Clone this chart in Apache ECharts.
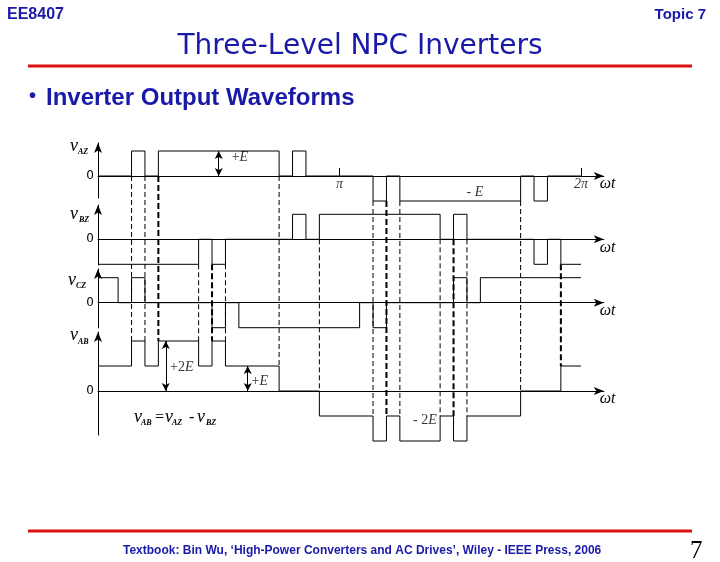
<!DOCTYPE html>
<html>
<head>
<meta charset="utf-8">
<script src="https://cdn.jsdelivr.net/npm/echarts@6/dist/echarts.min.js"></script>
<style>
html, body { margin: 0; padding: 0; background: #fff; }
#main { width: 720px; height: 562px; }
</style>
</head>
<body>
<div id="main"></div>
<script>
// switching angles (deg) and level (in E) that holds from that angle on
var vAZAngles = [0, 25, 35, 45, 135, 145, 155, 205, 215, 225, 315, 325, 335, 360];
var vAZLevels = [0, 1, 0, 1, 0, 1, 0, -1, 0, -1, 0, -1, 0, 0];
var vBZAngles = [0, 75, 85, 95, 145, 155, 165, 255, 265, 275, 325, 335, 345, 360];
var vBZLevels = [-1, 0, -1, 0, 1, 0, 1, 0, 1, 0, -1, 0, -1, -1];
var vCZAngles = [0, 15, 25, 35, 85, 95, 105, 195, 205, 215, 265, 275, 285, 360];
var vCZLevels = [1, 0, 1, 0, -1, 0, -1, 0, -1, 0, 1, 0, 1, 1];
var vABAngles = [0, 25, 35, 45, 75, 85, 95, 135, 165, 205, 215, 225, 255, 265, 275, 315, 345, 360];
var vABLevels = [1, 2, 1, 2, 1, 2, 1, 0, -1, -2, -1, -2, -1, -2, -1, 0, 1, 1];

// dashed guide lines
var dashAngles = [25, 35, 45, 75, 85, 95, 135, 165, 205, 215, 225, 255, 265, 275, 315, 345];
var dashBold = [45, 85, 215, 265, 345];

// pi ticks on the top axis
var piTicks = [180, 360];
var piLabels = ['π', '2π'];
var piLabelLevel = -0.32;

// E annotations
var noteWave = ['AZ', 'AZ', 'AB', 'AB', 'AB'];
var noteArrowAt = [90, 266, 50.5, 111.6, 231.3];
var noteArrowTo = [1, -1, 2, 1, -2];
var noteLabelAt = [99.6, 274.7, 53.7, 114.5, 234.8];
var noteLabelLevel = [0.76, -0.67, 0.96, 0.37, -1.19];
var noteText = ['+E', '- E', '+2E', '+E', '- 2E'];

// layout
var E_PX = 25;
var X_LEFT = 98, X_RIGHT = 603.8, X_MAX = 377;
var panels = [
  { key: 'AZ', zero: 176, min: -0.88, max: 1.32, angles: vAZAngles, levels: vAZLevels },
  { key: 'BZ', zero: 239.3, min: -1.03, max: 1.37, angles: vBZAngles, levels: vBZLevels },
  { key: 'CZ', zero: 302.7, min: -1.01, max: 1.35, angles: vCZAngles, levels: vCZLevels },
  { key: 'AB', zero: 391, min: -1.76, max: 2.36, angles: vABAngles, levels: vABLevels }
];
var OV_MIN = -2.2, OV_MAX = 10;
var BLUE = '#1a1aa8', RED = '#dd1111';
var SERIF = 'Liberation Serif';

var offset = {};
panels.forEach(function (p) {
  offset[p.key] = (panels[3].zero - p.zero) / E_PX;
});

function edge(angles, levels, a) {
  var i = angles.indexOf(a);
  if (i <= 0) return null;
  return [levels[i - 1], levels[i]];
}

var grids = [], xAxes = [], yAxes = [], series = [];
var mathRich = {
  r: { fontFamily: SERIF, fontSize: 14, color: '#000' },
  i: { fontFamily: SERIF, fontStyle: 'italic', fontSize: 14, color: '#000' }
};

panels.forEach(function (p, i) {
  grids.push({
    left: X_LEFT, width: X_RIGHT - X_LEFT,
    top: p.zero - p.max * E_PX, height: (p.max - p.min) * E_PX,
    outerBoundsMode: 'none'
  });
  var isTop = i === 0;
  xAxes.push({
    type: 'value', gridIndex: i, min: 0, max: X_MAX,
    name: 'ωt', nameLocation: 'end', nameGap: -4,
    nameTextStyle: { fontFamily: SERIF, fontStyle: 'italic', fontSize: 16, color: '#000',
      align: 'left', verticalAlign: 'top', padding: [0, 0, 0, 0] },
    axisLine: { show: true, onZero: true, symbol: ['none', 'arrow'], symbolSize: [6, 10],
      lineStyle: { color: '#000', width: 1 } },
    axisTick: isTop ? { show: true, customValues: piTicks, inside: true, length: 8,
      lineStyle: { color: '#000', width: 1 } } : { show: false },
    axisLabel: { show: false },
    splitLine: { show: false }
  });
  yAxes.push({
    type: 'value', gridIndex: i, min: p.min, max: p.max,
    axisLine: { show: true, onZero: false, symbol: ['none', 'arrow'], symbolSize: [6, 10],
      lineStyle: { color: '#000', width: 1 } },
    axisTick: { show: false },
    axisLabel: { show: true, customValues: [0], margin: 4, formatter: function () { return '0'; },
      fontFamily: 'DejaVu Sans', fontSize: 12, color: '#000' },
    splitLine: { show: false }
  });

  var arrows = [];
  noteWave.forEach(function (w, k) {
    if (w !== p.key) return;
    arrows.push([{ coord: [noteArrowAt[k], 0] }, { coord: [noteArrowAt[k], noteArrowTo[k]] }]);
  });
  series.push({
    type: 'line', name: 'v' + p.key, xAxisIndex: i, yAxisIndex: i,
    step: 'end', showSymbol: false, clip: false, silent: true,
    data: p.angles.map(function (a, k) { return [a, p.levels[k]]; }),
    lineStyle: { color: '#000', width: 1 },
    markLine: {
      silent: true, symbol: ['arrow', 'arrow'], symbolSize: [6, 8],
      lineStyle: { color: '#000', width: 1, type: 'solid' },
      label: { show: false },
      data: arrows
    }
  });

  var notes = [];
  noteWave.forEach(function (w, k) {
    if (w !== p.key) return;
    var t = noteText[k];
    notes.push({
      value: [noteLabelAt[k], noteLabelLevel[k]],
      label: { position: 'right', distance: 0,
        formatter: '{r|' + t.slice(0, -1) + '}{i|' + t.slice(-1) + '}' }
    });
  });
  if (isTop) {
    piTicks.forEach(function (v, k) {
      notes.push({
        value: [v, piLabelLevel],
        label: { position: 'inside', formatter: '{i|' + piLabels[k] + '}' }
      });
    });
  }
  if (notes.length) {
    series.push({
      type: 'scatter', xAxisIndex: i, yAxisIndex: i, symbolSize: 0, silent: true, clip: false,
      data: notes,
      label: { show: true, rich: mathRich }
    });
  }
});

// overlay grid for dashed guides spanning all panels
var ov = panels.length;
grids.push({
  left: X_LEFT, width: X_RIGHT - X_LEFT,
  top: panels[3].zero - OV_MAX * E_PX, height: (OV_MAX - OV_MIN) * E_PX,
  outerBoundsMode: 'none'
});
xAxes.push({ type: 'value', gridIndex: ov, min: 0, max: X_MAX, show: false });
yAxes.push({ type: 'value', gridIndex: ov, min: OV_MIN, max: OV_MAX, show: false });

dashAngles.forEach(function (a) {
  var src = edge(vAZAngles, vAZLevels, a) ? 'AZ' : 'BZ';
  var e1 = src === 'AZ' ? edge(vAZAngles, vAZLevels, a) : edge(vBZAngles, vBZLevels, a);
  var e2 = edge(vABAngles, vABLevels, a);
  var y1 = offset[src] + Math.min(e1[0], e1[1]);
  var y2 = offset.AB + Math.max(e2[0], e2[1]);
  var bold = dashBold.indexOf(a) >= 0;
  series.push({
    type: 'line', xAxisIndex: ov, yAxisIndex: ov, showSymbol: false, silent: true, clip: false,
    data: [[a, y1], [a, y2]],
    lineStyle: { color: '#000', width: bold ? 2 : 1, type: bold ? [6, 3] : [5, 3] }
  });
});

// text labels for waveforms (anchored at x, y = left, vertical middle)
function txt(x, y, t, size, italic, bold) {
  return { type: 'text', x: x, y: y, silent: true,
    style: { text: t, fontFamily: SERIF, fontStyle: italic ? 'italic' : 'normal',
      fontWeight: bold ? 'bold' : 'normal', fontSize: size, fill: '#000',
      align: 'left', verticalAlign: 'middle' } };
}
function vLabel(x, y, sub, subX, subY) {
  return [txt(x, y, 'v', 18, true, false), txt(subX, subY, sub, 8, true, true)];
}

var graphics = [
  { type: 'text', left: 7, top: 7, style: { text: 'EE8407', fontFamily: 'Liberation Sans',
    fontWeight: 'bold', fontSize: 16, fill: BLUE } },
  { type: 'text', right: 14, top: 7, style: { text: 'Topic 7', fontFamily: 'Liberation Sans',
    fontWeight: 'bold', fontSize: 15, fill: BLUE } },
  { type: 'text', left: 'center', top: 33, style: { text: 'Three-Level NPC Inverters',
    fontFamily: 'DejaVu Sans', fontSize: 28, fill: BLUE } },
  { type: 'line', shape: { x1: 28, y1: 66, x2: 692, y2: 66 }, style: { stroke: RED, lineWidth: 3 } },
  { type: 'text', left: 29, top: 86, style: { text: '•', fontFamily: 'Liberation Sans',
    fontWeight: 'bold', fontSize: 20, fill: BLUE } },
  { type: 'text', left: 46, top: 86, style: { text: 'Inverter Output Waveforms',
    fontFamily: 'Liberation Sans', fontWeight: 'bold', fontSize: 24, fill: BLUE } },
  { type: 'line', shape: { x1: 28, y1: 531, x2: 692, y2: 531 }, style: { stroke: RED, lineWidth: 3 } },
  { type: 'text', left: 123, top: 545, style: { text: 'Textbook: Bin Wu, ‘High-Power Converters and AC Drives’, Wiley - IEEE Press, 2006',
    fontFamily: 'Liberation Sans', fontWeight: 'bold', fontSize: 12, fill: BLUE } },
  { type: 'text', left: 690, top: 539, style: { text: '7', fontFamily: SERIF, fontSize: 25, fill: '#000' } }
];
graphics = graphics
  .concat(vLabel(70, 146, 'AZ', 78, 152))
  .concat(vLabel(70, 214, 'BZ', 79, 220))
  .concat(vLabel(68, 280, 'CZ', 76, 286))
  .concat(vLabel(70, 335, 'AB', 78, 342))
  .concat(vLabel(134, 417, 'AB', 141, 423))
  .concat([txt(155, 418, '=', 16, false, false)])
  .concat(vLabel(165, 417, 'AZ', 172, 423))
  .concat([txt(189, 418, '-', 16, false, false)])
  .concat(vLabel(197, 417, 'BZ', 206, 423));

var chart = echarts.init(document.getElementById('main'));
var option = {
  animation: false,
  backgroundColor: '#fff',
  grid: grids,
  xAxis: xAxes,
  yAxis: yAxes,
  series: series,
  graphic: graphics
};
chart.setOption(option);
</script>
</body>
</html>
